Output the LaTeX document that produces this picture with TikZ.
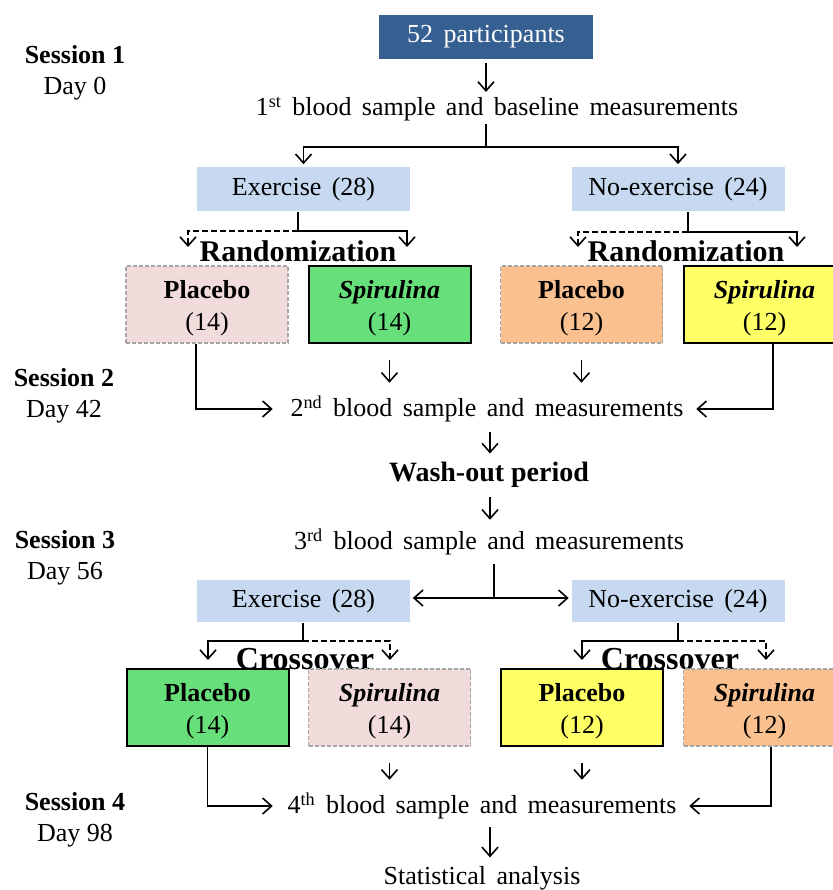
\documentclass[tikz,border=0pt]{standalone}
\usepackage{fontspec}
\setmainfont{Liberation Serif}
\usetikzlibrary{arrows.meta}

\definecolor{headblue}{HTML}{376092}
\definecolor{grpblue}{HTML}{C6D9F1}
\definecolor{pinkarm}{HTML}{F2DCDB}
\definecolor{greenarm}{HTML}{67E07B}
\definecolor{orangearm}{HTML}{FAC090}
\definecolor{yellowarm}{HTML}{FFFF66}
\definecolor{edgegray}{HTML}{A6A6A6}

\newcommand{\txtfont}{\fontsize{13}{15.5}\selectfont\spaceskip=0.4em}
\newcommand{\armlabel}[2]{\rule{0pt}{13pt}\textbf{#1}\\(#2)}

\begin{document}
\begin{tikzpicture}[x=0.5pt, y=-0.5pt, >={Straight Barb[length=4.5pt,width=8pt]}, line width=0.8pt]
    \tikzset{
        txt/.style      = {font=\txtfont, inner sep=1pt},
        head/.style     = {txt, fill=headblue, text=white, minimum width=107pt, minimum height=22pt},
        grpbox/.style   = {txt, fill=grpblue, minimum width=106.5pt, minimum height=22pt},
        arm/.style      = {font=\fontsize{13}{16}\selectfont, align=center, minimum width=81pt, minimum height=38.5pt},
        armon/.style    = {arm, draw=black, line width=1pt},
        armoff/.style   = {arm, draw=edgegray, dash pattern=on 2pt off 1pt},
        bigbold/.style  = {font=\bfseries\fontsize{15}{17}\selectfont, inner sep=0pt},
        session/.style  = {txt, align=center, font=\fontsize{13}{15.5}\selectfont},
        arr/.style      = {->},
        dashline/.style = {dash pattern=on 3pt off 1.5pt}
    }
    \useasboundingbox (0,0) rectangle (833,890);

    % sessions
    \node[session] (S1) at (75,73)  {\textbf{Session 1}\\Day 0};
    \node[session] (S2) at (64,396) {\textbf{Session 2}\\Day 42};
    \node[session] (S3) at (65,558) {\textbf{Session 3}\\Day 56};
    \node[session] (S4) at (75,820) {\textbf{Session 4}\\Day 98};

    % first part
    \node[head] (PART) at (486,37) {52 participants};
    \node[txt] (BASE) at (497,109) {1\textsuperscript{st} blood sample and baseline measurements};
    \node[grpbox] (EX1) at (303.5,189) {Exercise (28)};
    \node[grpbox] (NX1) at (678,189) {No-exercise (24)};
    \node[bigbold] (RAND1) at (298,251) {Randomization};
    \node[bigbold] (RAND2) at (686,251) {Randomization};
    \node[armoff, fill=pinkarm]   (P14A) at (207,304.5)   {\armlabel{Placebo}{14}};
    \node[armon,  fill=greenarm]  (S14A) at (389.5,304.5) {\armlabel{\textit{Spirulina}}{14}};
    \node[armoff, fill=orangearm] (P12A) at (581.5,304.5) {\armlabel{Placebo}{12}};
    \node[armon,  fill=yellowarm] (S12A) at (764.5,304.5) {\armlabel{\textit{Spirulina}}{12}};
    \node[txt] (SECOND) at (487,409) {2\textsuperscript{nd} blood sample and measurements};
    \node[bigbold, font=\bfseries\fontsize{14}{16}\selectfont] (WASH) at (489,475) {Wash-out period};

    % second part
    \node[txt] (THIRD) at (489,542) {3\textsuperscript{rd} blood sample and measurements};
    \node[grpbox, minimum height=21pt] (EX2) at (303.5,601) {Exercise (28)};
    \node[grpbox, minimum height=21pt] (NX2) at (678,601) {No-exercise (24)};
    \node[bigbold, font=\bfseries\fontsize{16}{18}\selectfont] (CROSS1) at (305,659) {Crossover};
    \node[bigbold, font=\bfseries\fontsize{16}{18}\selectfont] (CROSS2) at (670,659) {Crossover};
    \node[armon,  fill=greenarm]  (P14B) at (207.5,707.5) {\armlabel{Placebo}{14}};
    \node[armoff, fill=pinkarm]   (S14B) at (389.5,707.5) {\armlabel{\textit{Spirulina}}{14}};
    \node[armon,  fill=yellowarm] (P12B) at (582,707.5)   {\armlabel{Placebo}{12}};
    \node[armoff, fill=orangearm] (S12B) at (764.5,707.5) {\armlabel{\textit{Spirulina}}{12}};
    \node[txt] (FOURTH) at (482,806) {4\textsuperscript{th} blood sample and measurements};
    \node[txt] (STAT) at (482,878) {Statistical analysis};

    % split points
    \coordinate (MID) at (490,0);
    \coordinate (SP1) at (486,147);
    \coordinate (R1) at (298,231);
    \coordinate (R1L) at (188,247);
    \coordinate (R1R) at (407,247);
    \coordinate (R2) at (688,232);
    \coordinate (R2L) at (578,247);
    \coordinate (R2R) at (797,247);
    \coordinate (SP2) at (494,598);
    \coordinate (C1) at (303,641);
    \coordinate (C1L) at (208,660);
    \coordinate (C1R) at (390,660);
    \coordinate (C2) at (678,641);
    \coordinate (C2L) at (582,660);
    \coordinate (C2R) at (766,660);

    % connectors, first part
    \draw[arr, shorten <=1.5pt, shorten >=1pt] (PART) -- (PART |- BASE.north);
    \draw (BASE.south -| SP1) -- (SP1);
    \draw[arr, shorten >=1pt] (SP1) -| (EX1);
    \draw[arr, shorten >=1pt] (SP1) -| (NX1);
    \draw (EX1.south -| R1) -- (R1);
    \draw[arr, dashline] (R1) -| (R1L);
    \draw[arr] (R1) -| (R1R);
    \draw (NX1.south -| R2) -- (R2);
    \draw[arr, dashline] (R2) -| (R2L);
    \draw[arr] (R2) -| (R2R);
    \draw[arr, shorten >=7.5pt] ([xshift=-5.5pt]P14A.south) |- (SECOND);
    \draw[arr, shorten <=8pt, shorten >=5pt] (S14A.south) -- (S14A.south |- SECOND.north);
    \draw[arr, shorten <=8pt, shorten >=5pt] (P12A.south) -- (P12A.south |- SECOND.north);
    \draw[arr, shorten >=5pt] ([xshift=4.25pt]S12A.south) |- (SECOND);
    \draw[arr, shorten <=3.5pt, shorten >=4pt] (SECOND.south -| MID) -- (WASH.north -| MID);
    \draw[arr, shorten <=4pt, shorten >=3pt] (WASH.south -| MID) -- (THIRD.north -| MID);

    % connectors, second part
    \draw[shorten <=3pt] (THIRD.south -| SP2) -- (SP2);
    \draw[arr, shorten >=1pt] (SP2) -- (SP2 -| EX2.east);
    \draw[arr, shorten >=1pt] (SP2) -- (SP2 -| NX2.west);
    \draw (EX2.south -| C1) -- (C1);
    \draw[arr] (C1) -| (C1L);
    \draw[arr, dashline] (C1) -| (C1R);
    \draw (NX2.south -| C2) -- (C2);
    \draw[arr] (C2) -| (C2L);
    \draw[arr, dashline] (C2) -| (C2R);
    \draw[arr, shorten >=6pt] (P14B.south) |- (FOURTH);
    \draw[arr, shorten <=8pt, shorten >=5pt] (S14B.south) -- (S14B.south |- FOURTH.north);
    \draw[arr, shorten <=8pt, shorten >=5pt] (P12B.south) -- (P12B.south |- FOURTH.north);
    \draw[arr, shorten >=5pt] ([xshift=3.25pt]S12B.south) |- (FOURTH);
    \draw[arr, shorten <=2.5pt, shorten >=3pt] (FOURTH.south -| MID) -- (STAT.north -| MID);
\end{tikzpicture}
\end{document}
